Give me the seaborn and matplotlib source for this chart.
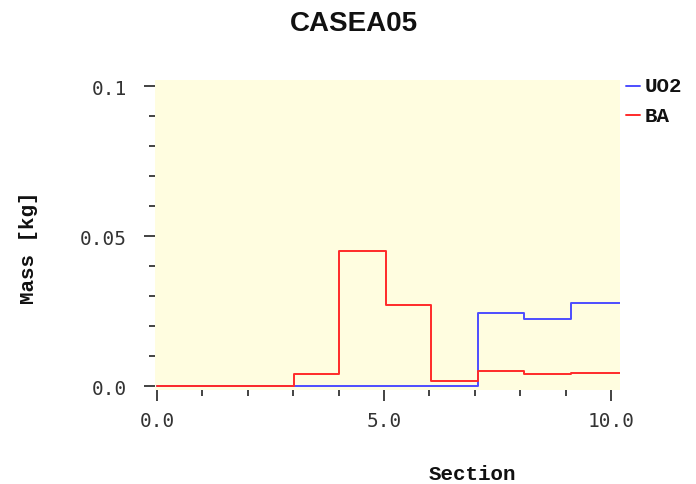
"""
Step plot of mass per section for CASEA05 (UO2 vs BA).
Saves to out.png
"""

import numpy as np
import pandas as pd
import matplotlib
matplotlib.use('Agg')
import matplotlib.pyplot as plt
from matplotlib.ticker import MultipleLocator
import seaborn as sns

# Data

section_start = [0.0, 1.0, 2.0, 3.02, 4.0, 5.04, 6.04, 7.07, 8.09, 9.12]
section_end = 10.2
uo2_mass = [0.0, 0.0, 0.0, 0.0, 0.0, 0.0, 0.0, 0.0245, 0.0226, 0.0278]
ba_mass = [0.0, 0.0, 0.0, 0.004, 0.045, 0.027, 0.0017, 0.0050, 0.0040, 0.0043]

x = section_start + [section_end]
df = pd.DataFrame({
    'section': x * 2,
    'mass': uo2_mass + [uo2_mass[-1]] + ba_mass + [ba_mass[-1]],
    'material': ['UO2'] * len(x) + ['BA'] * len(x),
})

sns.set_style('white')
plt.rcParams['font.family'] = ['DejaVu Sans']

fig = plt.figure(figsize=(6.96, 4.85), dpi=100)
ax = fig.add_axes([155 / 696, 1 - 391 / 485, 465 / 696, 310 / 485])
ax.set_facecolor('#fffde0')

palette = {'UO2': '#4d4dff', 'BA': '#ff2a2a'}
sns.lineplot(data=df, x='section', y='mass', hue='material', hue_order=['UO2', 'BA'],
             palette=palette, drawstyle='steps-post', linewidth=1.4, ax=ax,
             legend=False, sort=False)

ax.set_xlim(-0.044, 10.2)
ax.set_ylim(-0.0012, 0.102)
for s in ax.spines.values():
    s.set_visible(False)

ax.xaxis.set_minor_locator(MultipleLocator(1))
ax.yaxis.set_minor_locator(MultipleLocator(0.01))
ax.set_yticks([0.0, 0.05, 0.1])
ax.set_yticklabels(['0.0', '0.05', '0.1'])
ax.set_xticks([0, 5, 10])
ax.set_xticklabels(['0.0', '5.0', '10.0'])
ax.tick_params(which='both', direction='out', colors='#222222',
               bottom=True, left=True, labelsize=14)
ax.tick_params(axis='y', pad=12)
ax.tick_params(axis='x', pad=7)
ax.tick_params(which='major', length=8, width=1.2)
ax.tick_params(which='minor', length=4, width=1.2)
for lab in ax.get_xticklabels() + ax.get_yticklabels():
    lab.set_family('DejaVu Sans Mono')
    lab.set_color('#333333')

lbl = dict(family='Liberation Mono', weight='bold', fontsize=15, color='#111111')
ax.set_xlabel('')
ax.set_ylabel('')
fig.text(472 / 696, 1 - 475 / 485, 'Section', ha='center', va='center', **lbl)
fig.text(28 / 696, 1 - 248 / 485, 'Mass [kg]', ha='center', va='center',
         rotation=90, **lbl)

fig.suptitle('CASEA05', x=0.508, y=0.978, fontsize=20, weight='bold', color='#111111',
             family='Liberation Sans')

# legend to the right of the plot area
for i, name in enumerate(['UO2', 'BA']):
    yy = 1 - (87 + 29 * i) / 485
    fig.add_artist(plt.Line2D([626 / 696, 640 / 696], [yy, yy], color=palette[name], lw=1.4))
    fig.text(645 / 696, yy, name, va='center', ha='left', **lbl)

fig.savefig('out.png', dpi=100)
